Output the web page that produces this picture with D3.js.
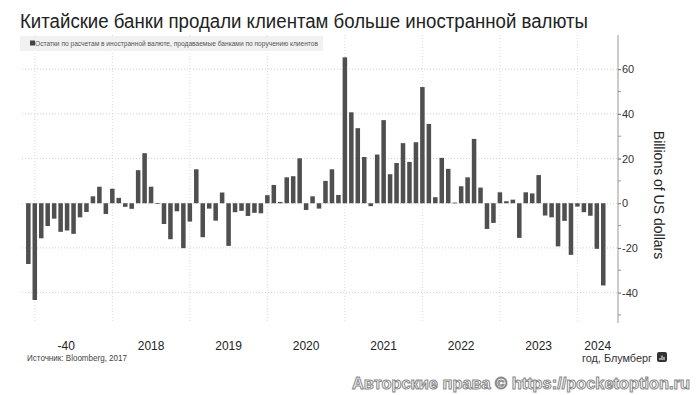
<!DOCTYPE html>
<html>
<head>
<meta charset="utf-8">
<script src="https://cdn.jsdelivr.net/npm/d3@7"></script>
<style>
  body { margin: 0; background: #fff; }
  svg { display: block; font-family: "Liberation Sans", Arial, sans-serif; }
</style>
</head>
<body>
<script>
// monthly values, Dec 2016 .. May 2024, billions of US dollars
const values = [
  -27.2, -43.3, -15.7, -10.2, -6.9, -12.8, -12.2, -13.7, -6.3, -3.9,
  3.1, 7.4, -4.8, 6.5, 2.4, -1.6, -2.5, 14.8, 22.4, 7.4,
  -0.3, -9.3, -16.1, -3.6, -20.1, -8.2, 15.2, -15.2, -2.4, -7.8,
  4.8, -19.1, -4.0, -3.4, -5.7, -4.3, -4.5, 3.6, 8.2, 0.6,
  11.6, 12.1, 20.1, -3.0, 3.1, -2.4, 10.0, 15.2, 3.7, 65.3,
  40.7, 33.6, 20.7, -1.3, 21.8, 37.2, 13.0, 18.0, 26.9, 18.5,
  27.3, 52.0, 35.5, 2.7, 20.3, 15.4, 0.3, 7.6, 11.6, 28.8,
  7.0, -11.5, -8.8, 4.9, 0.9, 1.6, -15.5, 4.9, 4.4, 12.6,
  -5.5, -6.3, -19.3, -7.9, -23.1, -1.5, -4.0, -5.6, -20.4, -36.8
];
const months = d3.timeMonth.range(new Date(2016, 11, 1), new Date(2024, 5, 1));
const yearStarts = [2017, 2018, 2019, 2020, 2021, 2022, 2023, 2024];
const yearLabels = ["-40", "2018", "2019", "2020", "2021", "2022", "2023", "2024"];
const yTicks = [-40, -20, 0, 20, 40, 60];
const yMinor = [-50, -30, -10, 10, 30, 50];

const W = 698, H = 395;
const plotL = 20, plotR = 618, plotT = 35, plotB = 323;

const svg = d3.select("body").append("svg")
  .attr("width", W).attr("height", H);

const x = d3.scaleBand()
  .domain(months)
  .range([25.1, 606.5])
  .paddingInner(0.3)
  .paddingOuter(0.15);

const y = d3.scaleLinear()
  .domain([-53.6, 75.3])
  .range([plotB, plotT]);

const xc = d => x(d) + x.bandwidth() / 2;
const janX = yearStarts.map(yr => xc(months.find(m => m.getFullYear() === yr && m.getMonth() === 0)));

// title
svg.append("text")
  .attr("x", 20).attr("y", 28)
  .attr("font-size", 20)
  .attr("fill", "#222")
  .attr("textLength", 568)
  .attr("lengthAdjust", "spacingAndGlyphs")
  .text("Китайские банки продали клиентам больше иностранной валюты");

// grid
const grid = svg.append("g");
grid.selectAll(".hg")
  .data(yTicks)
  .enter().append("line")
  .attr("x1", 22).attr("x2", plotR)
  .attr("y1", d => y(d)).attr("y2", d => y(d))
  .attr("stroke", "#cfcfcf")
  .attr("stroke-dasharray", "1,2");

grid.selectAll(".vg")
  .data(janX)
  .enter().append("line")
  .attr("x1", d => d).attr("x2", d => d)
  .attr("y1", plotT).attr("y2", plotB)
  .attr("stroke", "#d8d8d8")
  .attr("stroke-dasharray", "1,2");

// legend box
svg.append("rect")
  .attr("x", 20).attr("y", 36)
  .attr("width", 303).attr("height", 15)
  .attr("fill", "#f1f1f1");
svg.append("rect")
  .attr("x", 30).attr("y", 40.5)
  .attr("width", 5).attr("height", 5)
  .attr("fill", "#444");
svg.append("text")
  .attr("x", 35).attr("y", 46)
  .attr("font-size", 7)
  .attr("fill", "#555")
  .attr("textLength", 283)
  .attr("lengthAdjust", "spacingAndGlyphs")
  .text("Остатки по расчетам в иностранной валюте, продаваемые банками по поручению клиентов");

// bars
svg.append("g").selectAll("rect")
  .data(values)
  .enter().append("rect")
  .attr("x", (d, i) => x(months[i]))
  .attr("width", x.bandwidth())
  .attr("y", d => y(Math.max(0, d)))
  .attr("height", d => Math.max(0.8, Math.abs(y(d) - y(0))))
  .attr("fill", "#4f4f4f");

// right axis
const axis = svg.append("g")
  .attr("transform", `translate(${plotR},0)`);
axis.append("line")
  .attr("y1", plotT).attr("y2", plotB)
  .attr("stroke", "#999");
axis.selectAll(".mt")
  .data(yMinor)
  .enter().append("line")
  .attr("x1", 0).attr("x2", 3)
  .attr("y1", d => y(d)).attr("y2", d => y(d))
  .attr("stroke", "#999");
const yAxis = axis.append("g")
  .call(d3.axisRight(y).tickValues(yTicks).tickSize(3).tickPadding(1).tickFormat(d => d));
yAxis.select(".domain").remove();
yAxis.selectAll(".tick line").attr("stroke", "#666");
yAxis.selectAll(".tick text")
  .attr("font-size", 11)
  .attr("fill", "#333")
  .attr("font-family", "Liberation Sans, Arial, sans-serif");

svg.append("text")
  .attr("transform", `translate(654,195) rotate(90)`)
  .attr("text-anchor", "middle")
  .attr("font-size", 14)
  .attr("fill", "#222")
  .text("Billions of US dollars");

// year labels centred on each year's span
const bounds = [plotL].concat(janX.slice(1), [plotR]);
svg.append("g").selectAll("text")
  .data(yearLabels)
  .enter().append("text")
  .attr("x", (d, i) => (bounds[i] + bounds[i + 1]) / 2)
  .attr("y", 350)
  .attr("text-anchor", "middle")
  .attr("font-size", 12)
  .attr("fill", "#222")
  .text(d => d);

// source lines
svg.append("text")
  .attr("x", 27).attr("y", 361)
  .attr("font-size", 9)
  .attr("fill", "#444")
  .attr("textLength", 100)
  .attr("lengthAdjust", "spacingAndGlyphs")
  .text("Источник: Bloomberg, 2017");

svg.append("text")
  .attr("x", 582).attr("y", 362)
  .attr("font-size", 11)
  .attr("fill", "#333")
  .attr("textLength", 70)
  .attr("lengthAdjust", "spacingAndGlyphs")
  .text("год, Блумберг");

const icon = svg.append("g").attr("transform", "translate(657,352)");
icon.append("rect")
  .attr("width", 10).attr("height", 10).attr("rx", 2)
  .attr("fill", "#333");
icon.selectAll("line")
  .data([[3, 6], [5, 3.5], [7, 5]])
  .enter().append("line")
  .attr("x1", d => d[0]).attr("x2", d => d[0])
  .attr("y1", d => d[1]).attr("y2", 8)
  .attr("stroke", "#fff").attr("stroke-width", 1);

// watermark
svg.append("text")
  .attr("x", 352).attr("y", 389)
  .attr("font-size", 16)
  .attr("font-weight", "bold")
  .attr("fill", "#fff")
  .attr("stroke", "#8a8a8a")
  .attr("stroke-width", 1)
  .attr("textLength", 338)
  .attr("lengthAdjust", "spacingAndGlyphs")
  .text("Авторские права © https://pocketoption.ru");
</script>
</body>
</html>
